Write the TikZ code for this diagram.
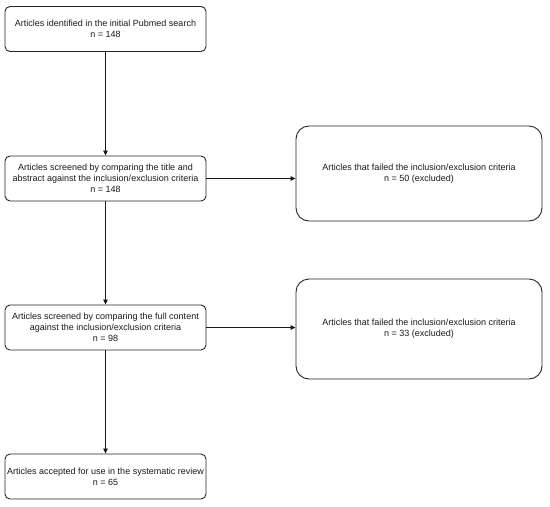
\documentclass[tikz,border=0pt]{standalone}
\usepackage{fontspec}
\setmainfont{Liberation Sans}
\usetikzlibrary{arrows.meta}
\begin{document}
\begin{tikzpicture}[x=1pt,y=-1pt,
  box/.style={draw=black!85, line width=0.9pt, rounded corners=5pt, align=center,
    font=\fontsize{9}{11}\selectfont, inner sep=0pt, text=black!90},
  smallbox/.style={box, minimum width=201pt, minimum height=45pt},
  bigbox/.style={box, rounded corners=13pt, minimum width=246pt},
  arr/.style={-{Triangle[length=5pt,width=4.5pt]}, line width=0.8pt, draw=black!90}]
\useasboundingbox (0,0) rectangle (550,507);
\node[smallbox] (b1) at (105.5,29) {Articles identified in the initial Pubmed search\\n = 148};
\node[smallbox] (b2) at (105.5,178.5) {Articles screened by comparing the title and\\abstract against the inclusion/exclusion criteria\\n = 148};
\node[bigbox, minimum height=95pt] (b3) at (419,173.5) {Articles that failed the inclusion/exclusion criteria\\n = 50 (excluded)};
\node[smallbox] (b4) at (105.5,327.5) {Articles screened by comparing the full content\\against the inclusion/exclusion criteria\\n = 98};
\node[bigbox, minimum height=100pt] (b5) at (419,329) {Articles that failed the inclusion/exclusion criteria\\n = 33 (excluded)};
\node[smallbox] (b6) at (105.5,476.5) {Articles accepted for use in the systematic review\\n = 65};
\draw[arr] (b1) -- (b2);
\draw[arr] (b2) -- (b4);
\draw[arr] (b4) -- (b6);
\draw[arr] (b2.east) -- (b2.east -| b3.west);
\draw[arr] (b4.east) -- (b4.east -| b5.west);
\end{tikzpicture}
\end{document}
